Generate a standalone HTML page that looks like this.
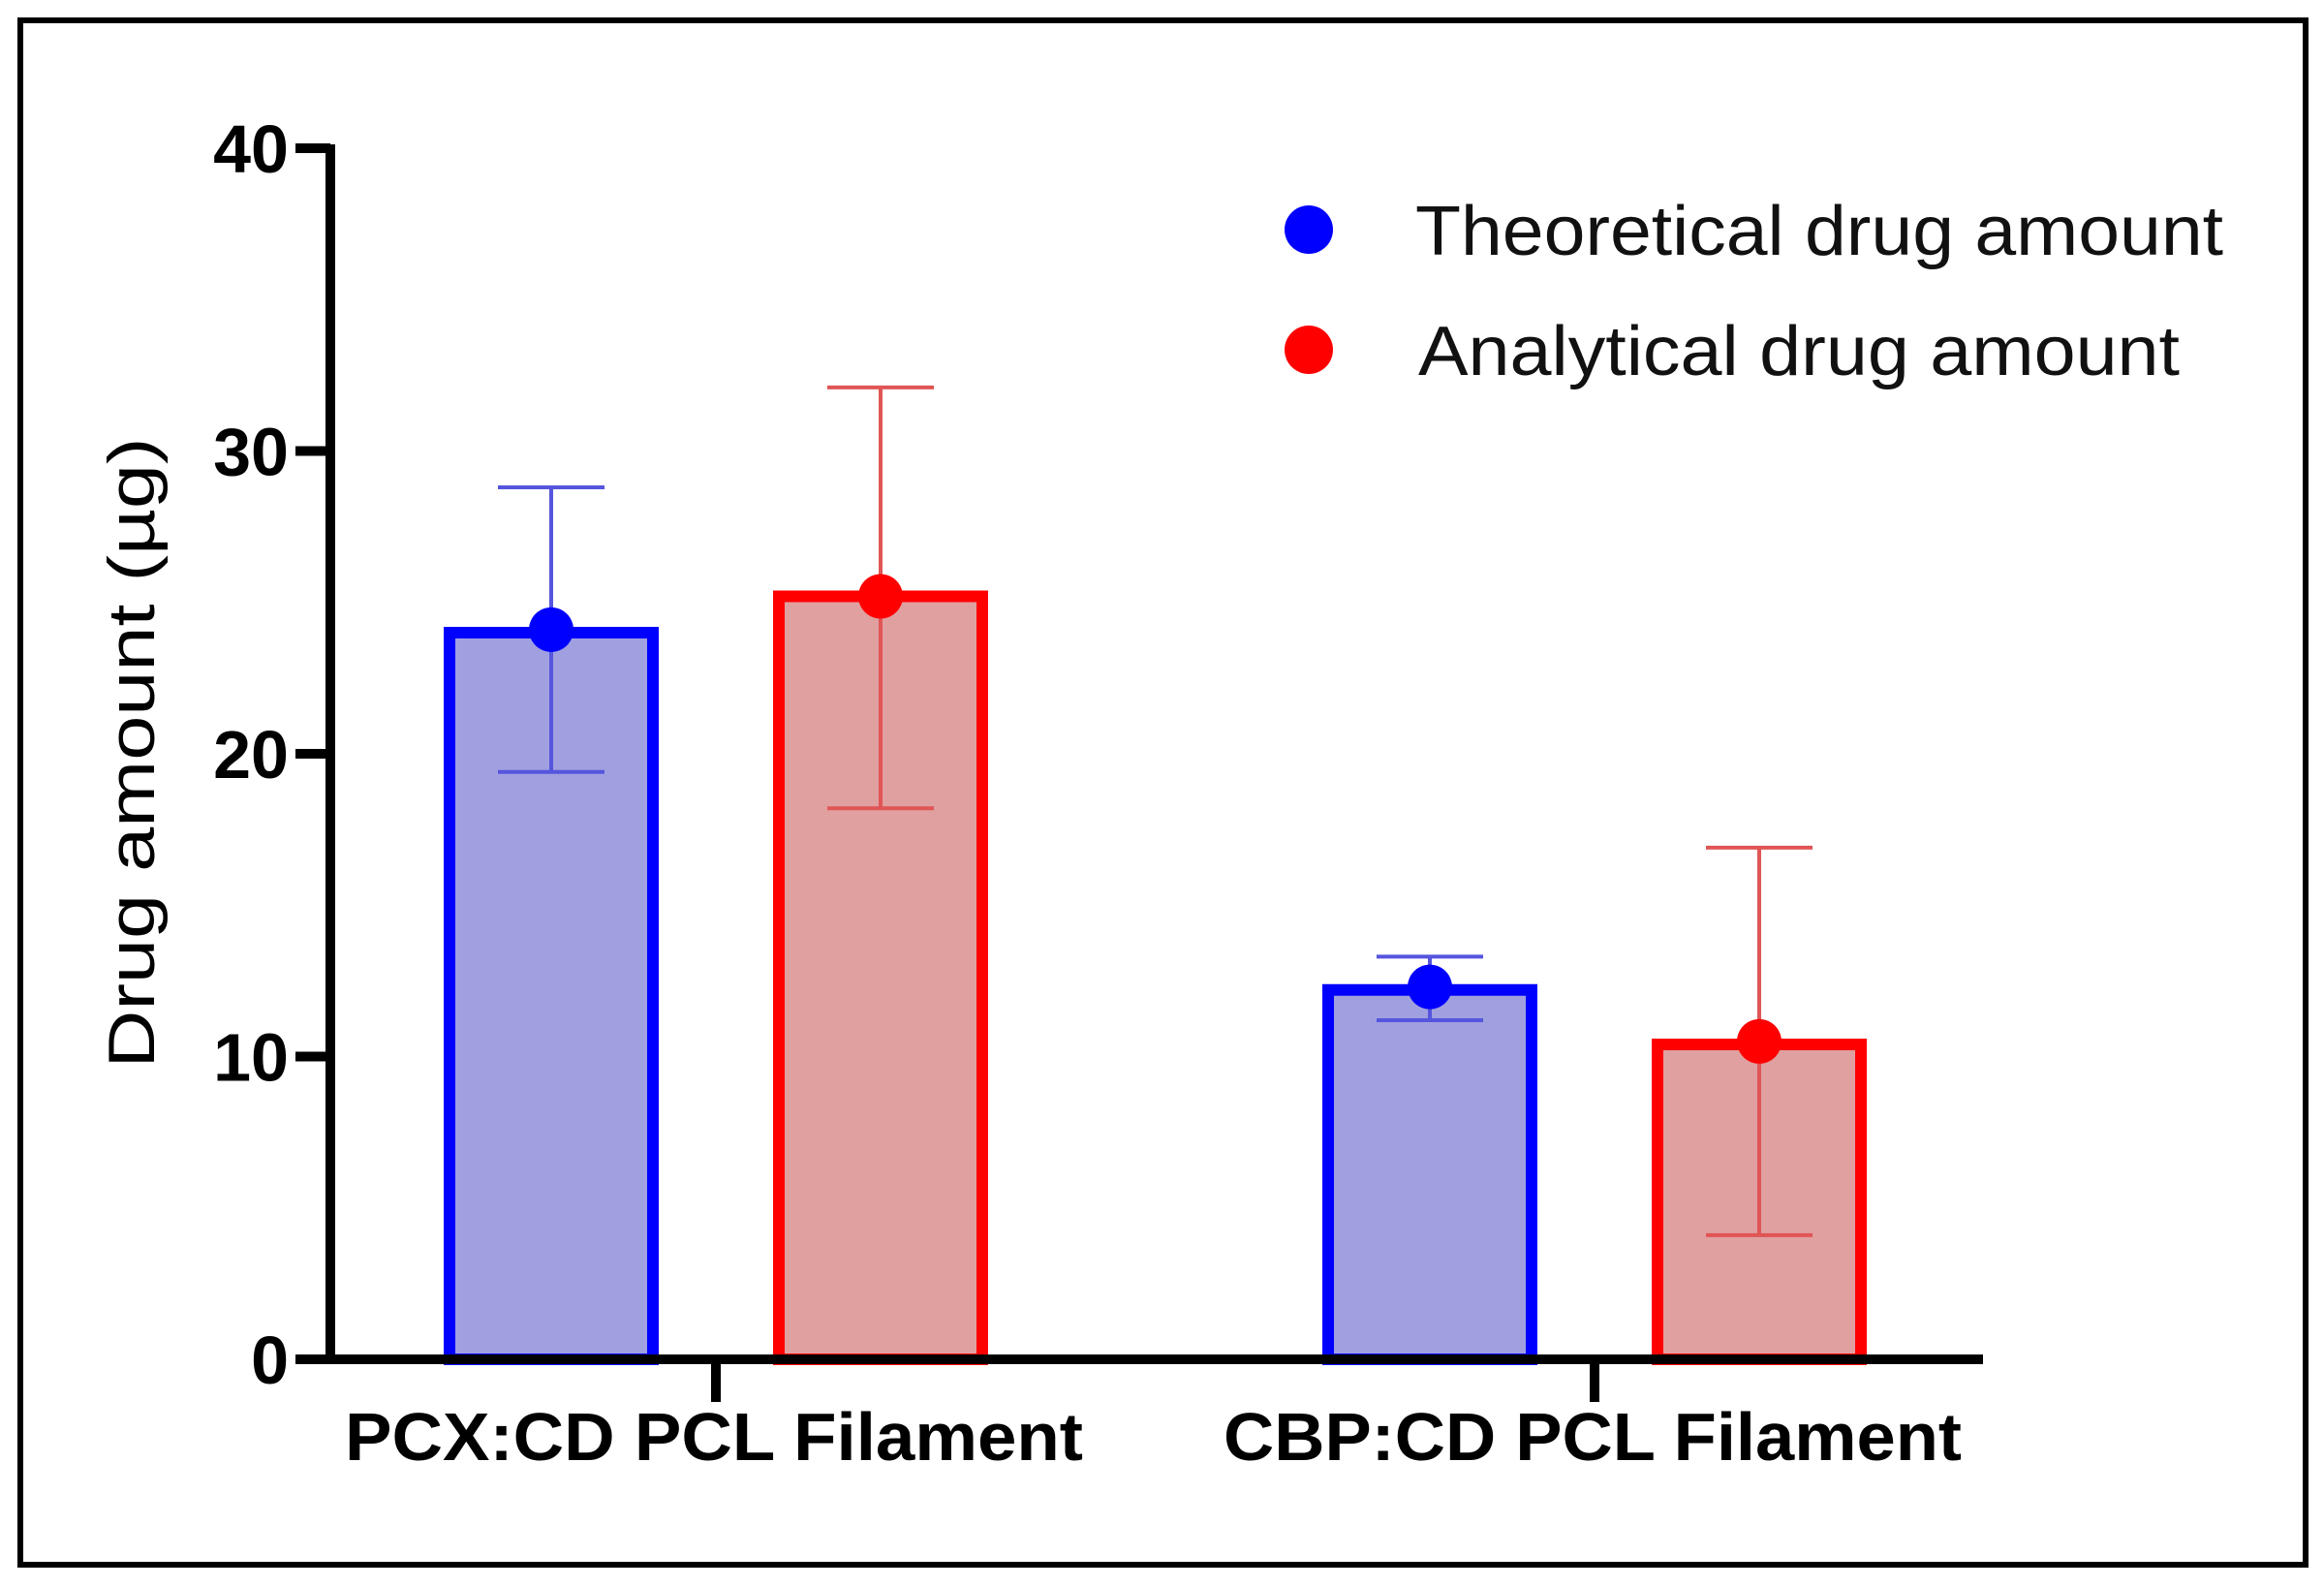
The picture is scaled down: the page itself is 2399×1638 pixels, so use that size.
<!DOCTYPE html>
<html><head><meta charset="utf-8"><style>
html,body{margin:0;padding:0;background:#fff}
svg{display:block}
text{font-family:"Liberation Sans",sans-serif}
</style></head><body>
<svg id="chart" width="2399" height="1638" viewBox="0 0 2399 1638">
<rect x="21" y="21" width="2359" height="1594" fill="#fff" stroke="#000" stroke-width="6"/>
<g id="plot"></g>
</svg>
<script>
const categories = ["PCX:CD PCL Filament", "CBP:CD PCL Filament"];
const seriesNames = ["Theoretical drug amount", "Analytical drug amount"];
const theoreticalBar = [24.0, 12.2];
const analyticalBar = [25.2, 10.4];
const theoreticalMean = [24.1, 12.3];
const analyticalMean = [25.2, 10.5];
const theoreticalHigh = [28.8, 13.3];
const theoreticalLow = [19.4, 11.2];
const analyticalHigh = [32.1, 16.9];
const analyticalLow = [18.2, 4.1];
const yTicks = [0, 10, 20, 30, 40];

const NS = "http://www.w3.org/2000/svg";
const g = document.getElementById("plot");
function el(tag, attrs, parent) {
  const e = document.createElementNS(NS, tag);
  for (const k in attrs) e.setAttribute(k, attrs[k]);
  (parent || g).appendChild(e);
  return e;
}
const Y0 = 1403, Y40 = 153, AX = 341, XEND = 2047;
function y(v) { return Y0 - (v / 40) * (Y0 - Y40); }
const groupCenters = [739, 1646];
const offsets = [-170, 170];
function x(ci, si) { return groupCenters[ci] + offsets[si]; }
const barW = 210;

const seriesStyle = [
  {fill: "#a0a0e0", stroke: "#0000ff", err: "#5555dd", dot: "#0000ff"},
  {fill: "#e0a0a0", stroke: "#ff0000", err: "#e05555", dot: "#ff0000"}
];
const bars = [theoreticalBar, analyticalBar];
const means = [theoreticalMean, analyticalMean];
const highs = [theoreticalHigh, analyticalHigh];
const lows = [theoreticalLow, analyticalLow];

for (let ci = 0; ci < categories.length; ci++) {
  for (let si = 0; si < 2; si++) {
    const cx = x(ci, si), st = seriesStyle[si];
    const b = el("rect", {x: cx - barW/2, y: y(bars[si][ci]), width: barW, height: y(0) - y(bars[si][ci]), fill: st.fill, stroke: st.stroke, "stroke-width": 12});
    
    
    const eg = el("g", {stroke: st.err, "stroke-width": 4});
    
    
    el("line", {x1: cx, x2: cx, y1: y(highs[si][ci]), y2: y(lows[si][ci])}, eg);
    el("line", {x1: cx - 55, x2: cx + 55, y1: y(highs[si][ci]), y2: y(highs[si][ci])}, eg);
    el("line", {x1: cx - 55, x2: cx + 55, y1: y(lows[si][ci]), y2: y(lows[si][ci])}, eg);
    const d = el("circle", {cx: cx, cy: y(means[si][ci]), r: 23, fill: st.dot});
    
    
  }
}

// axes
const yAxis = el("line", {x1: AX, x2: AX, y1: Y40 - 4, y2: Y0 + 5, stroke: "#000", "stroke-width": 10});


const xAxis = el("line", {x1: AX - 36, x2: XEND, y1: Y0, y2: Y0, stroke: "#000", "stroke-width": 10});


for (const t of yTicks) {
  el("line", {x1: AX - 36, x2: AX, y1: y(t), y2: y(t), stroke: "#000", "stroke-width": 10});
  const tl = el("text", {x: 298, y: y(t) + 25, "text-anchor": "end", "font-size": 70, "font-weight": "bold"});
  tl.textContent = t;
  
  
}
for (let ci = 0; ci < categories.length; ci++) {
  el("line", {x1: groupCenters[ci], x2: groupCenters[ci], y1: Y0, y2: 1447, stroke: "#000", "stroke-width": 10});
  const cl = el("text", {x: groupCenters[ci] - 2, y: 1507, "text-anchor": "middle", "font-size": 70, "font-weight": "bold", textLength: 762, lengthAdjust: "spacingAndGlyphs"});
  cl.textContent = categories[ci];
  
  
}
const yt = el("text", {x: 0, y: 0, transform: "translate(159,777) rotate(-90)", "text-anchor": "middle", "font-size": 68, textLength: 651, lengthAdjust: "spacingAndGlyphs"});
yt.textContent = "Drug amount (µg)";



// legend
const legY = [237, 361];
for (let si = 0; si < 2; si++) {
  const lg = el("g", {});
  
  
  el("circle", {cx: 1351, cy: legY[si], r: 25, fill: seriesStyle[si].dot}, lg);
  const lt = el("text", {x: si ? 1464 : 1461, y: legY[si] + 26, "font-size": 72, textLength: si ? 786 : 834, lengthAdjust: "spacingAndGlyphs", fill: "#111"}, lg);
  lt.textContent = seriesNames[si];
}
</script>
</body></html>
